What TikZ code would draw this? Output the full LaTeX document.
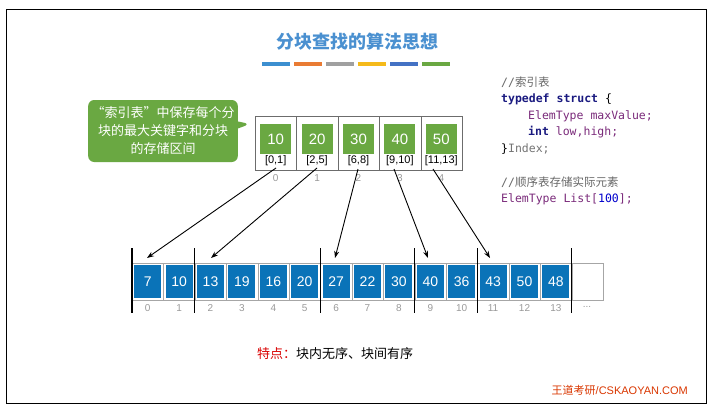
\documentclass[tikz,border=0pt]{standalone}
\usepackage{fontspec}
\setmainfont{Liberation Sans}
\newfontfamily\cjk{Noto Sans CJK SC}
\newfontfamily\mono{DejaVu Sans Mono}
\usetikzlibrary{arrows.meta,shapes.callouts}
\definecolor{gr}{HTML}{6AA842}
\definecolor{bl}{HTML}{0A73B8}
\definecolor{kw}{HTML}{1A1A80}
\definecolor{pu}{HTML}{7A2A7A}
\definecolor{tt}{HTML}{4A90D0}
\begin{document}
\begin{tikzpicture}[x=1pt,y=-1pt,
  cell/.style={draw=gray!70,line width=0.8pt,minimum width=31.4pt,minimum height=37pt,inner sep=0,anchor=north west},
  bbox/.style={fill=bl,draw=none,text=white,minimum width=27pt,minimum height=33pt,font=\fontsize{14}{14}\selectfont},
  icell/.style={draw=gray!85!black,line width=0.8pt,minimum width=41.4pt,minimum height=54pt,inner sep=0,anchor=north west},
  gbox/.style={fill=gr,text=white,minimum width=31pt,minimum height=30pt,inner sep=0,font=\fontsize{15}{15}\selectfont},
  lab/.style={font=\fontsize{11}{11}\selectfont},
  idx/.style={text=gray!80,font=\fontsize{10}{10}\selectfont},
  div/.style={line width=1.3pt},
  arr/.style={-{Stealth[length=7pt,width=5pt]},line width=0.9pt},
  code/.style={anchor=west,font=\mono\fontsize{11.5}{11.5}\selectfont,inner sep=0}]
\useasboundingbox (0,0) rectangle (720,418);
\draw[line width=0.8pt] (6,9) rectangle (706,403);
\node[text=tt,font=\cjk\bfseries\fontsize{18}{18}\selectfont] (title) at (357,42) {分块查找的算法思想};
\foreach \c [count=\i from 0] in {3C8FD0,E97B33,A0A0A0,F5BA1A,4472C4,6AA842}{
  \definecolor{tmp}{HTML}{\c}
  \fill[tmp] (262+32*\i,62) rectangle (290+32*\i,66);}
% callout
\node[rectangle callout,rounded corners=6pt,fill=gr,text=white,minimum width=145pt,minimum height=62pt,
  callout absolute pointer={(250,124)},align=center,font=\cjk\fontsize{13}{18}\selectfont] (call) at (163,131)
  {“索引表”中保存每个分\\块的最大关键字和分块\\的存储区间};
% index table
\foreach \v/\r [count=\i from 0] in {10/{[0,1]},20/{[2,5]},30/{[6,8]},40/{[9,10]},50/{[11,13]}}{
  \node[icell] (ic\i) at (255+41.4*\i,116) {};
  \node[gbox] (g\i) at (275.7+41.4*\i,139) {\v};
  \node[lab] (l\i) at (275.7+41.4*\i,161) {\r};
  \node[idx] (ii\i) at (275.7+41.4*\i,178) {\i};
}
% array
\foreach \v [count=\i from 0] in {7,10,13,19,16,20,27,22,30,40,36,43,50,48}{
  \node[cell] (c\i) at (132+31.4*\i,263) {};
  \node[bbox] (b\i) at (147.7+31.4*\i,281.5) {\v};
  \node[idx] (n\i) at (147.7+31.4*\i,308) {\i};
}
\node[cell] (c14) at (571.6,263) {};
\node[idx] (n14) at (587,307) {...};
\foreach \k/\x in {a/132,b/194.8,c/320.4,d/414.6,e/477.4,f/571.6}{
  \coordinate (\k1) at (\x,248); \coordinate (\k2) at (\x,313);
  \draw[div] (\k1) -- (\k2);}
% arrows
\coordinate (s0) at (276,168); \coordinate (t0) at (147,258);
\coordinate (s1) at (317,168); \coordinate (t1) at (211,258);
\coordinate (s2) at (358,169); \coordinate (t2) at (335,258);
\coordinate (s3) at (394,169); \coordinate (t3) at (428,258);
\coordinate (s4) at (433,169); \coordinate (t4) at (490,258);
\foreach \i in {0,...,4}{\draw[arr] (s\i) -- (t\i);}
% code
\node[code,text=gray!80!black] (k1) at (501,82) {//{\cjk 索引表}};
\node[code] (k2) at (501,99) {\textcolor{kw}{\bfseries typedef struct} \{};
\node[code,text=pu] (k3) at (528,116) {ElemType maxValue;};
\node[code] (k4) at (528,132) {\textcolor{kw}{\bfseries int} \textcolor{pu}{low,high;}};
\node[code] (k5) at (501,149) {\}\textcolor{gray!90!black}{Index;}};
\node[code,text=gray!80!black] (k6) at (501,182) {//{\cjk 顺序表存储实际元素}};
\node[code,text=pu] (k7) at (501,199) {ElemType List[\textcolor{blue!80!black}{100}];};
% bottom
\node[anchor=west,font=\cjk\fontsize{13}{13}\selectfont,inner sep=0] (feat) at (257,354) {\textcolor{red!85!black}{特点：}块内无序、块间有序};
\node[anchor=east,text=orange!50!red!85!black,font=\fontsize{11}{11}\selectfont,inner sep=0] (brand) at (688,390) {{\cjk 王道考研}/CSKAOYAN.COM};
\end{tikzpicture}
\end{document}
